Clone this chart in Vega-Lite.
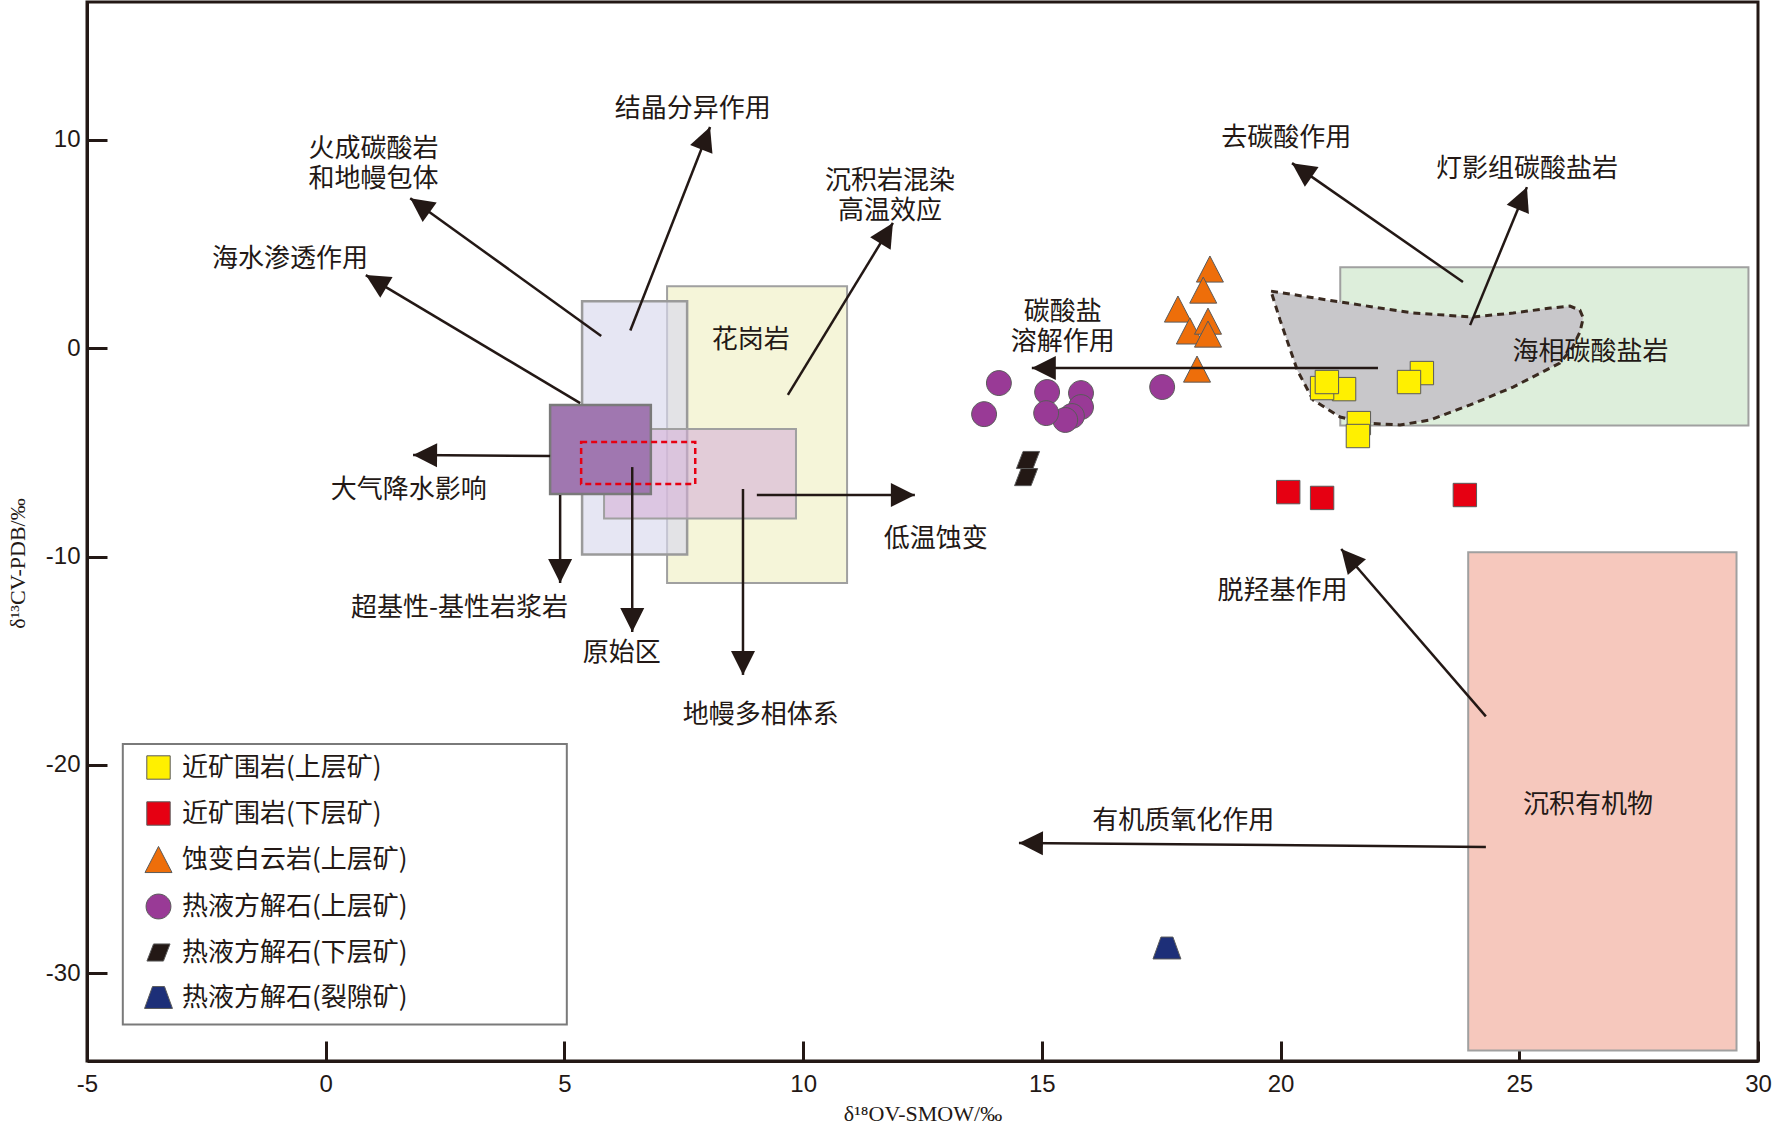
{
  "$schema": "https://vega.github.io/schema/vega-lite/v6.json",
  "width": 1671,
  "height": 1059,
  "autosize": "none",
  "padding": {"left": 87, "top": 2, "right": 17, "bottom": 63},
  "background": "white",
  "config": {"view": {"stroke": "#231815", "strokeWidth": 3}, "font": "Noto Sans CJK SC"},
  "datasets": {
    "rects": [
      {"name": "green", "x": 21.25, "x2": 29.8, "y": 3.88, "y2": -3.72},
      {"name": "organic", "x": 23.93, "x2": 29.55, "y": -9.79, "y2": -33.7},
      {"name": "granite", "x": 7.15, "x2": 10.92, "y": 2.97, "y2": -11.27},
      {"name": "lavender", "x": 5.37, "x2": 7.57, "y": 2.25, "y2": -9.9},
      {"name": "pink", "x": 5.83, "x2": 9.85, "y": -3.88, "y2": -8.18},
      {"name": "purple", "x": 4.7, "x2": 6.81, "y": -2.73, "y2": -7.0},
      {"name": "reddash", "x": 5.35, "x2": 7.74, "y": -4.51, "y2": -6.52},
      {"name": "legendbox", "x": -4.25, "x2": 5.05, "y": -18.99, "y2": -32.45}
    ],
    "poly": [
      {"o": 1, "x": 19.8, "y": 2.73},
      {"o": 2, "x": 21.25, "y": 2.21},
      {"o": 3, "x": 22.78, "y": 1.68},
      {"o": 4, "x": 24.03, "y": 1.49},
      {"o": 5, "x": 24.87, "y": 1.68},
      {"o": 6, "x": 25.65, "y": 1.92},
      {"o": 7, "x": 26.06, "y": 2.01},
      {"o": 8, "x": 26.27, "y": 1.82},
      {"o": 9, "x": 26.34, "y": 1.44},
      {"o": 10, "x": 26.27, "y": 0.77},
      {"o": 11, "x": 26.11, "y": 0.0},
      {"o": 12, "x": 25.85, "y": -0.72},
      {"o": 13, "x": 24.87, "y": -1.87},
      {"o": 14, "x": 23.97, "y": -2.73},
      {"o": 15, "x": 23.13, "y": -3.45},
      {"o": 16, "x": 22.5, "y": -3.69},
      {"o": 17, "x": 21.81, "y": -3.6},
      {"o": 18, "x": 21.25, "y": -3.31},
      {"o": 19, "x": 20.68, "y": -2.49},
      {"o": 20, "x": 20.35, "y": -1.06},
      {"o": 21, "x": 19.99, "y": 1.34},
      {"o": 22, "x": 19.8, "y": 2.73}
    ],
    "pts": [
      {"type": "近矿围岩(上层矿)", "d18O": 21.33, "d13C": -1.97},
      {"type": "近矿围岩(上层矿)", "d18O": 20.87, "d13C": -1.92},
      {"type": "近矿围岩(上层矿)", "d18O": 20.97, "d13C": -1.63},
      {"type": "近矿围岩(上层矿)", "d18O": 22.96, "d13C": -1.2},
      {"type": "近矿围岩(上层矿)", "d18O": 22.69, "d13C": -1.63},
      {"type": "近矿围岩(上层矿)", "d18O": 21.64, "d13C": -3.6},
      {"type": "近矿围岩(上层矿)", "d18O": 21.62, "d13C": -4.22},
      {"type": "近矿围岩(下层矿)", "d18O": 20.16, "d13C": -6.91},
      {"type": "近矿围岩(下层矿)", "d18O": 20.87, "d13C": -7.19},
      {"type": "近矿围岩(下层矿)", "d18O": 23.86, "d13C": -7.05},
      {"type": "蚀变白云岩(上层矿)", "d18O": 18.52, "d13C": 3.79},
      {"type": "蚀变白云岩(上层矿)", "d18O": 18.38, "d13C": 2.78},
      {"type": "蚀变白云岩(上层矿)", "d18O": 17.85, "d13C": 1.87},
      {"type": "蚀变白云岩(上层矿)", "d18O": 18.1, "d13C": 0.82},
      {"type": "蚀变白云岩(上层矿)", "d18O": 18.48, "d13C": 1.29},
      {"type": "蚀变白云岩(上层矿)", "d18O": 18.48, "d13C": 0.67},
      {"type": "蚀变白云岩(上层矿)", "d18O": 18.25, "d13C": -1.01},
      {"type": "热液方解石(上层矿)", "d18O": 14.1, "d13C": -1.68},
      {"type": "热液方解石(上层矿)", "d18O": 13.79, "d13C": -3.17},
      {"type": "热液方解石(上层矿)", "d18O": 15.11, "d13C": -2.11},
      {"type": "热液方解石(上层矿)", "d18O": 15.82, "d13C": -2.16},
      {"type": "热液方解石(上层矿)", "d18O": 15.82, "d13C": -2.83},
      {"type": "热液方解石(上层矿)", "d18O": 15.63, "d13C": -3.26},
      {"type": "热液方解石(上层矿)", "d18O": 15.49, "d13C": -3.45},
      {"type": "热液方解石(上层矿)", "d18O": 15.09, "d13C": -3.12},
      {"type": "热液方解石(上层矿)", "d18O": 17.52, "d13C": -1.87},
      {"type": "热液方解石(下层矿)", "d18O": 14.71, "d13C": -5.37},
      {"type": "热液方解石(下层矿)", "d18O": 14.67, "d13C": -6.19},
      {"type": "热液方解石(裂隙矿)", "d18O": 17.62, "d13C": -28.78}
    ],
    "arrows": [
      {"id": "结晶分异", "x1": 6.38, "y1": 0.84, "x2": 8.05, "y2": 10.6},
      {"id": "火成碳酸岩", "x1": 5.77, "y1": 0.58, "x2": 1.77, "y2": 7.19},
      {"id": "海水渗透", "x1": 5.33, "y1": -2.64, "x2": 0.84, "y2": 3.5},
      {"id": "沉积岩混染", "x1": 9.68, "y1": -2.25, "x2": 11.88, "y2": 6.0},
      {"id": "大气降水", "x1": 4.7, "y1": -5.18, "x2": 1.83, "y2": -5.13},
      {"id": "超基性", "x1": 4.91, "y1": -7.05, "x2": 4.91, "y2": -11.27},
      {"id": "原始区", "x1": 6.42, "y1": -5.71, "x2": 6.42, "y2": -13.62},
      {"id": "地幔多相", "x1": 8.74, "y1": -6.76, "x2": 8.74, "y2": -15.68},
      {"id": "低温蚀变", "x1": 9.03, "y1": -7.05, "x2": 12.34, "y2": -7.05},
      {"id": "碳酸盐溶解", "x1": 22.04, "y1": -0.96, "x2": 14.79, "y2": -0.96},
      {"id": "去碳酸", "x1": 23.82, "y1": 3.17, "x2": 20.24, "y2": 8.87},
      {"id": "灯影组", "x1": 23.97, "y1": 1.1, "x2": 25.16, "y2": 7.72},
      {"id": "脱羟基", "x1": 24.3, "y1": -17.67, "x2": 21.27, "y2": -9.64},
      {"id": "有机质氧化", "x1": 24.3, "y1": -23.93, "x2": 14.52, "y2": -23.74}
    ],
    "labels": [
      {"text": "结晶分异作用", "x": 7.69, "y": 11.46},
      {"text": "火成碳酸岩\n和地幔包体", "x": 1.0, "y": 9.53},
      {"text": "海水渗透作用", "x": -0.75, "y": 4.27},
      {"text": "沉积岩混染\n高温效应", "x": 11.82, "y": 8.0},
      {"text": "花岗岩", "x": 8.9, "y": 0.38},
      {"text": "去碳酸作用", "x": 20.12, "y": 10.07},
      {"text": "灯影组碳酸盐岩", "x": 25.16, "y": 8.59},
      {"text": "碳酸盐\n溶解作用", "x": 15.44, "y": 1.72},
      {"text": "海相碳酸盐岩", "x": 26.49, "y": -0.19},
      {"text": "大气降水影响", "x": 1.74, "y": -6.81},
      {"text": "低温蚀变", "x": 12.78, "y": -9.16},
      {"text": "超基性-基性岩浆岩", "x": 2.8, "y": -12.47},
      {"text": "原始区", "x": 6.2, "y": -14.63},
      {"text": "地幔多相体系", "x": 9.11, "y": -17.6},
      {"text": "脱羟基作用", "x": 20.04, "y": -11.65},
      {"text": "沉积有机物", "x": 26.44, "y": -21.92},
      {"text": "有机质氧化作用", "x": 17.96, "y": -22.69}
    ]
  },
  "layer": [
    {
      "data": {"name": "rects"},
      "transform": [{"filter": "datum.name == 'green'"}],
      "mark": {"type": "rect", "fill": "#DDEEDB", "stroke": "#A0A0A0", "strokeWidth": 2},
      "encoding": {
        "x": {"field": "x", "type": "quantitative", "scale": {"domain": [-5, 30], "nice": false, "zero": false},
          "axis": {"values": [-5, 0, 5, 10, 15, 20, 25, 30], "tickSize": -20, "labelPadding": 31, "labelExpr": "'' + datum.value",
            "labelFont": "Liberation Sans", "labelFontSize": 24, "labelColor": "#231815", "tickColor": "#231815", "tickWidth": 3,
            "domainColor": "#231815", "domainWidth": 3, "grid": false, "labelFlush": false, "labelOverlap": false,
            "title": "δ¹⁸OV-SMOW/‰", "titleFont": "Liberation Serif", "titleFontSize": 22, "titleFontWeight": "normal",
            "titleColor": "#231815", "titleY": 52, "titleBaseline": "middle"}},
        "x2": {"field": "x2"},
        "y": {"field": "y", "type": "quantitative", "scale": {"domain": [-34.2, 16.6], "nice": false, "zero": false},
          "axis": {"values": [-30, -20, -10, 0, 10], "tickSize": -20, "labelPadding": 27, "labelExpr": "'' + datum.value",
            "labelFont": "Liberation Sans", "labelFontSize": 24, "labelColor": "#231815", "tickColor": "#231815", "tickWidth": 3,
            "domainColor": "#231815", "domainWidth": 3, "grid": false, "labelOverlap": false,
            "title": "δ¹³CV-PDB/‰", "titleFont": "Liberation Serif", "titleFontSize": 22, "titleFontWeight": "normal",
            "titleColor": "#231815", "titleX": -70, "titleY": 561, "titleAngle": 270, "titleBaseline": "middle", "titleAlign": "center"}},
        "y2": {"field": "y2"}
      }
    },
    {
      "data": {"name": "rects"},
      "transform": [{"filter": "datum.name == 'organic'"}],
      "mark": {"type": "rect", "fill": "#F6C8BD", "stroke": "#A0A0A0", "strokeWidth": 2},
      "encoding": {
        "x": {"field": "x", "type": "quantitative", "scale": {"domain": [-5, 30], "nice": false, "zero": false}},
        "x2": {"field": "x2"},
        "y": {"field": "y", "type": "quantitative", "scale": {"domain": [-34.2, 16.6], "nice": false, "zero": false}},
        "y2": {"field": "y2"}
      }
    },
    {
      "data": {"name": "rects"},
      "transform": [{"filter": "datum.name == 'granite'"}],
      "mark": {"type": "rect", "fill": "#F3F3CF", "fillOpacity": 0.8, "stroke": "#A0A0A0", "strokeWidth": 2},
      "encoding": {
        "x": {"field": "x", "type": "quantitative", "scale": {"domain": [-5, 30], "nice": false, "zero": false}},
        "x2": {"field": "x2"},
        "y": {"field": "y", "type": "quantitative", "scale": {"domain": [-34.2, 16.6], "nice": false, "zero": false}},
        "y2": {"field": "y2"}
      }
    },
    {
      "data": {"name": "rects"},
      "transform": [{"filter": "datum.name == 'lavender'"}],
      "mark": {"type": "rect", "fill": "#D8D8EC", "fillOpacity": 0.65, "stroke": "#9A9A9A", "strokeWidth": 2.5},
      "encoding": {
        "x": {"field": "x", "type": "quantitative", "scale": {"domain": [-5, 30], "nice": false, "zero": false}},
        "x2": {"field": "x2"},
        "y": {"field": "y", "type": "quantitative", "scale": {"domain": [-34.2, 16.6], "nice": false, "zero": false}},
        "y2": {"field": "y2"}
      }
    },
    {
      "data": {"name": "rects"},
      "transform": [{"filter": "datum.name == 'pink'"}],
      "mark": {"type": "rect", "fill": "#D5B1D7", "fillOpacity": 0.6, "stroke": "#A0A0A0", "strokeWidth": 2},
      "encoding": {
        "x": {"field": "x", "type": "quantitative", "scale": {"domain": [-5, 30], "nice": false, "zero": false}},
        "x2": {"field": "x2"},
        "y": {"field": "y", "type": "quantitative", "scale": {"domain": [-34.2, 16.6], "nice": false, "zero": false}},
        "y2": {"field": "y2"}
      }
    },
    {
      "data": {"name": "rects"},
      "transform": [{"filter": "datum.name == 'purple'"}],
      "mark": {"type": "rect", "fill": "#A077B0", "stroke": "#7A7A7A", "strokeWidth": 2.5},
      "encoding": {
        "x": {"field": "x", "type": "quantitative", "scale": {"domain": [-5, 30], "nice": false, "zero": false}},
        "x2": {"field": "x2"},
        "y": {"field": "y", "type": "quantitative", "scale": {"domain": [-34.2, 16.6], "nice": false, "zero": false}},
        "y2": {"field": "y2"}
      }
    },
    {
      "data": {"name": "rects"},
      "transform": [{"filter": "datum.name == 'reddash'"}],
      "mark": {"type": "rect", "fill": null, "fillOpacity": 0, "stroke": "#E60012", "strokeWidth": 2.5, "strokeDash": [6, 4]},
      "encoding": {
        "x": {"field": "x", "type": "quantitative", "scale": {"domain": [-5, 30], "nice": false, "zero": false}},
        "x2": {"field": "x2"},
        "y": {"field": "y", "type": "quantitative", "scale": {"domain": [-34.2, 16.6], "nice": false, "zero": false}},
        "y2": {"field": "y2"}
      }
    },
    {
      "data": {"name": "poly"},
      "mark": {"type": "line", "fill": "#C8C7CA", "stroke": "#3A2A20", "strokeWidth": 3, "strokeDash": [7, 5], "interpolate": "linear-closed"},
      "encoding": {
        "x": {"field": "x", "type": "quantitative", "scale": {"domain": [-5, 30], "nice": false, "zero": false}},
        "y": {"field": "y", "type": "quantitative", "scale": {"domain": [-34.2, 16.6], "nice": false, "zero": false}},
        "order": {"field": "o", "type": "quantitative"}
      }
    },
    {
      "data": {"name": "rects"},
      "transform": [{"filter": "datum.name == 'legendbox'"}],
      "mark": {"type": "rect", "fill": "white", "stroke": "#7A7A7A", "strokeWidth": 2},
      "encoding": {
        "x": {"field": "x", "type": "quantitative", "scale": {"domain": [-5, 30], "nice": false, "zero": false}},
        "x2": {"field": "x2"},
        "y": {"field": "y", "type": "quantitative", "scale": {"domain": [-34.2, 16.6], "nice": false, "zero": false}},
        "y2": {"field": "y2"}
      }
    },
    {
      "data": {"name": "pts"},
      "mark": {"type": "point", "filled": true, "size": 900, "opacity": 1, "stroke": "#5A5A5A", "strokeWidth": 1},
      "encoding": {
        "x": {"field": "d18O", "type": "quantitative", "scale": {"domain": [-5, 30], "nice": false, "zero": false}},
        "y": {"field": "d13C", "type": "quantitative", "scale": {"domain": [-34.2, 16.6], "nice": false, "zero": false}},
        "color": {"field": "type", "type": "nominal",
          "scale": {"domain": ["近矿围岩(上层矿)", "近矿围岩(下层矿)", "蚀变白云岩(上层矿)", "热液方解石(上层矿)", "热液方解石(下层矿)", "热液方解石(裂隙矿)"],
            "range": ["#FFF000", "#E60012", "#EE6E0A", "#993A96", "#231815", "#1D2F78"]},
          "legend": {"title": null, "orient": "none", "legendX": 56, "legendY": 750, "padding": 0, "rowPadding": 16,
            "symbolSize": 900, "symbolStrokeColor": "#5A5A5A", "symbolStrokeWidth": 1, "labelFont": "Noto Sans CJK SC",
            "labelFontSize": 26, "labelColor": "#231815", "labelOffset": 8, "labelLimit": 400}},
        "shape": {"field": "type", "type": "nominal",
          "scale": {"domain": ["近矿围岩(上层矿)", "近矿围岩(下层矿)", "蚀变白云岩(上层矿)", "热液方解石(上层矿)", "热液方解石(下层矿)", "热液方解石(裂隙矿)"],
            "range": [
              "M -0.78 -0.78 L 0.78 -0.78 L 0.78 0.78 L -0.78 0.78 Z",
              "M -0.78 -0.78 L 0.78 -0.78 L 0.78 0.78 L -0.78 0.78 Z",
              "M 0 -0.87 L 0.9 0.87 L -0.9 0.87 Z",
              "M -0.83 0 A 0.83 0.83 0 1 0 0.83 0 A 0.83 0.83 0 1 0 -0.83 0 Z",
              "M -0.33 -0.57 L 0.77 -0.57 L 0.33 0.57 L -0.77 0.57 Z",
              "M -0.4 -0.73 L 0.4 -0.73 L 0.93 0.73 L -0.93 0.73 Z"
            ]},
          "legend": {"title": null, "orient": "none", "legendX": 56, "legendY": 750, "padding": 0, "rowPadding": 16,
            "symbolSize": 900, "symbolStrokeColor": "#5A5A5A", "symbolStrokeWidth": 1, "labelFont": "Noto Sans CJK SC",
            "labelFontSize": 26, "labelColor": "#231815", "labelOffset": 8, "labelLimit": 400}}
      }
    },
    {
      "data": {"name": "arrows"},
      "mark": {"type": "rule", "color": "#231815", "strokeWidth": 2.5},
      "encoding": {
        "x": {"field": "x1", "type": "quantitative", "scale": {"domain": [-5, 30], "nice": false, "zero": false}},
        "y": {"field": "y1", "type": "quantitative", "scale": {"domain": [-34.2, 16.6], "nice": false, "zero": false}},
        "x2": {"field": "x2"},
        "y2": {"field": "y2"}
      }
    },
    {
      "data": {"name": "arrows"},
      "transform": [{"calculate": "atan2((datum.x2 - datum.x1) * 47.74, (datum.y2 - datum.y1) * 20.85) * 180 / PI", "as": "ang"}],
      "mark": {"type": "point", "filled": true, "shape": "M 0 0 L 1 2 L -1 2 Z", "size": 576, "color": "#231815", "opacity": 1},
      "encoding": {
        "x": {"field": "x2", "type": "quantitative", "scale": {"domain": [-5, 30], "nice": false, "zero": false}},
        "y": {"field": "y2", "type": "quantitative", "scale": {"domain": [-34.2, 16.6], "nice": false, "zero": false}},
        "angle": {"field": "ang", "type": "quantitative", "scale": null}
      }
    },
    {
      "data": {"name": "labels"},
      "mark": {"type": "text", "font": "Noto Sans CJK SC", "fontSize": 26, "color": "#231815", "align": "center", "baseline": "middle", "lineBreak": "\n", "lineHeight": 30},
      "encoding": {
        "x": {"field": "x", "type": "quantitative", "scale": {"domain": [-5, 30], "nice": false, "zero": false}},
        "y": {"field": "y", "type": "quantitative", "scale": {"domain": [-34.2, 16.6], "nice": false, "zero": false}},
        "text": {"field": "text"}
      }
    }
  ]
}
